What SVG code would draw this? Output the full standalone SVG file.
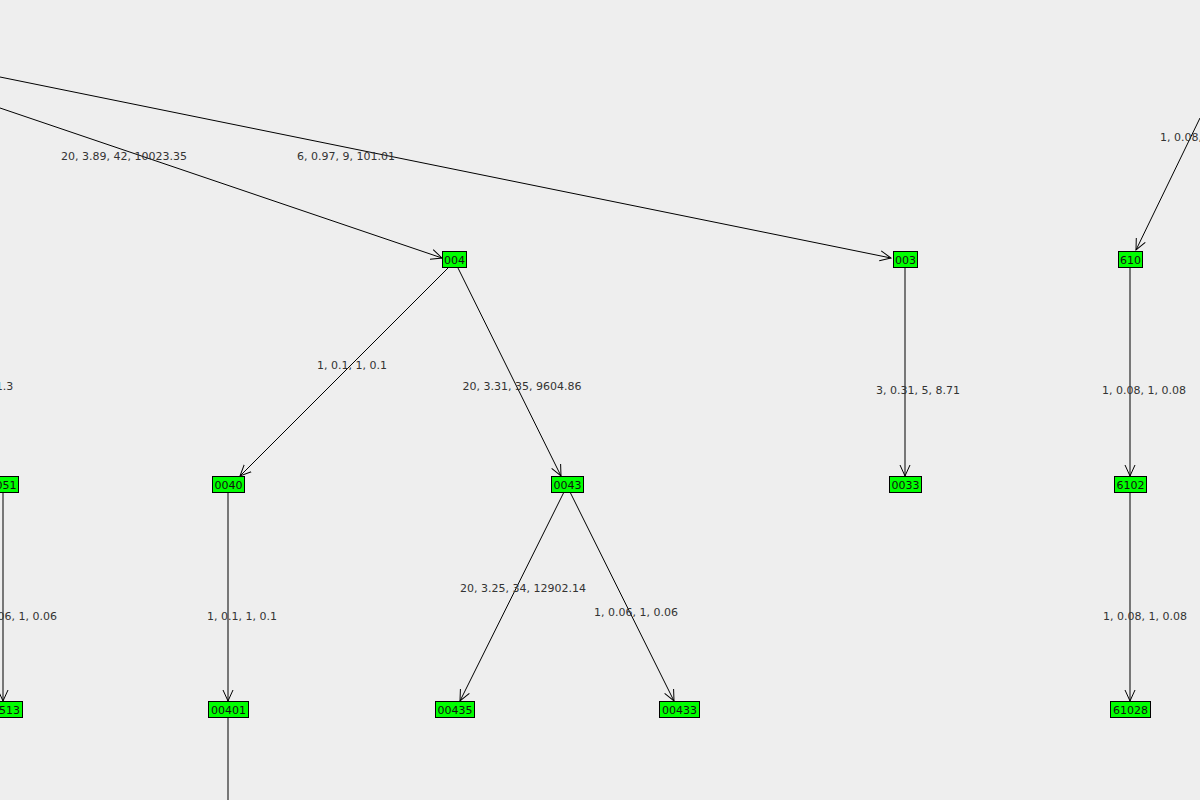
<svg xmlns="http://www.w3.org/2000/svg" width="1200" height="800" viewBox="0 0 1200 800">
<style>
.n rect{fill:#00ff00;stroke:#000;stroke-width:1}
.n text{font-family:"DejaVu Sans",sans-serif;font-size:11px;fill:#111;text-anchor:middle}
.e line{stroke:#000;stroke-width:1;marker-end:url(#a)}
.l{font-family:"DejaVu Sans",sans-serif;font-size:11px;fill:#333;text-anchor:middle}
</style>
<defs><marker id="a" viewBox="0 0 12 12" refX="11" refY="6" markerWidth="12" markerHeight="12" markerUnits="userSpaceOnUse" orient="auto"><path d="M0,1 L11,6 L0,11" fill="none" stroke="#000"/></marker></defs>
<rect width="1200" height="800" fill="#eeeeee"/>
<g class="e">
<line x1="0" y1="77" x2="891" y2="258"/>
<line x1="0" y1="108" x2="442" y2="258"/>
<line x1="1200" y1="118" x2="1136" y2="250"/>
<line x1="448" y1="268" x2="240" y2="476"/>
<line x1="458" y1="268" x2="561" y2="476"/>
<line x1="905" y1="268" x2="905" y2="476"/>
<line x1="1130" y1="268" x2="1130" y2="476"/>
<line x1="3" y1="492" x2="3" y2="701"/>
<line x1="228" y1="492" x2="228" y2="701"/>
<line x1="564" y1="492" x2="460" y2="701"/>
<line x1="570" y1="492" x2="674" y2="701"/>
<line x1="1130" y1="492" x2="1130" y2="701"/>
<line x1="228" y1="717" x2="228" y2="810" style="marker-end:none"/>
</g>
<g>
<text class="l" x="346" y="160">6, 0.97, 9, 101.01</text>
<text class="l" x="124" y="160">20, 3.89, 42, 10023.35</text>
<text class="l" x="1202" y="141">1, 0.08, 1, 0.08</text>
<text class="l" x="-41" y="390">1, 0.06, 1, 0.06, 1.3</text>
<text class="l" x="352" y="369">1, 0.1, 1, 0.1</text>
<text class="l" x="522" y="390">20, 3.31, 35, 9604.86</text>
<text class="l" x="918" y="394">3, 0.31, 5, 8.71</text>
<text class="l" x="1144" y="394">1, 0.08, 1, 0.08</text>
<text class="l" x="15" y="620">1, 0.06, 1, 0.06</text>
<text class="l" x="242" y="620">1, 0.1, 1, 0.1</text>
<text class="l" x="523" y="592">20, 3.25, 34, 12902.14</text>
<text class="l" x="636" y="616">1, 0.06, 1, 0.06</text>
<text class="l" x="1145" y="620">1, 0.08, 1, 0.08</text>
</g>
<g id="n004" class="n"><rect x="442.5" y="251.5" width="24" height="16"/><text x="454.5" y="263.5">004</text></g>
<g id="n003" class="n"><rect x="893.5" y="251.5" width="24" height="16"/><text x="905.5" y="263.5">003</text></g>
<g id="n610" class="n"><rect x="1118.5" y="251.5" width="24" height="16"/><text x="1130.5" y="263.5">610</text></g>
<g id="n0040" class="n"><rect x="212.5" y="476.5" width="32" height="16"/><text x="228.5" y="488.5">0040</text></g>
<g id="n0043" class="n"><rect x="551.5" y="476.5" width="32" height="16"/><text x="567.5" y="488.5">0043</text></g>
<g id="n0033" class="n"><rect x="889.5" y="476.5" width="32" height="16"/><text x="905.5" y="488.5">0033</text></g>
<g id="n6102" class="n"><rect x="1114.5" y="476.5" width="32" height="16"/><text x="1130.5" y="488.5">6102</text></g>
<g id="n0051" class="n"><rect x="-13.5" y="476.5" width="32" height="16"/><text x="2.5" y="488.5">0051</text></g>
<g id="n00401" class="n"><rect x="208.5" y="701.5" width="40" height="16"/><text x="228.5" y="713.5">00401</text></g>
<g id="n00435" class="n"><rect x="435.5" y="701.5" width="39" height="16"/><text x="455" y="713.5">00435</text></g>
<g id="n00433" class="n"><rect x="659.5" y="701.5" width="40" height="16"/><text x="679.5" y="713.5">00433</text></g>
<g id="n61028" class="n"><rect x="1110.5" y="701.5" width="40" height="16"/><text x="1130.5" y="713.5">61028</text></g>
<g id="n00513" class="n"><rect x="-17.5" y="701.5" width="40" height="16"/><text x="2.5" y="713.5">00513</text></g>
</svg>
